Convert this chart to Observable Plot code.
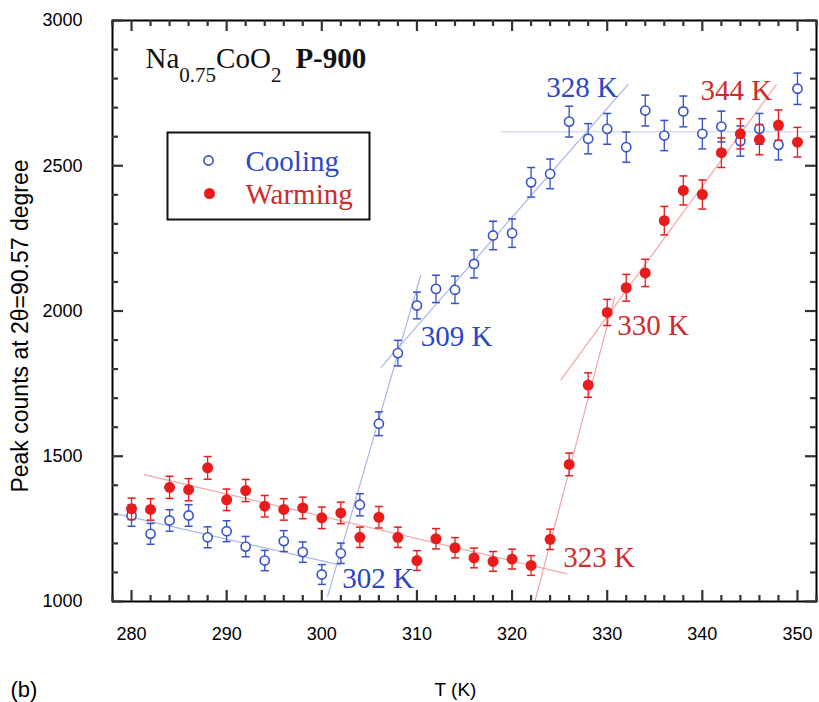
<!DOCTYPE html>
<html><head><meta charset="utf-8">
<script src="https://cdn.jsdelivr.net/npm/d3@7"></script>
<script src="https://cdn.jsdelivr.net/npm/@observablehq/plot@0.6"></script>
<style>body{margin:0;background:#fff} svg{display:block}</style>
</head><body><div id="chart"></div>
<script>
// ---- data ----
const temps = [280,282,284,286,288,290,292,294,296,298,300,302,304,306,308,310,312,314,316,318,320,322,324,326,328,330,332,334,336,338,340,342,344,346,348,350];
const coolingCounts = [1296,1233,1279,1296,1221,1242,1189,1141,1208,1170,1093,1166,1333,1612,1855,2019,2076,2073,2162,2260,2268,2443,2472,2652,2593,2627,2564,2690,2604,2687,2610,2635,2585,2627,2572,2765];
const coolingErr = [37,36,37,37,36,36,35,35,36,35,34,35,38,41,44,46,47,47,48,49,49,51,51,53,52,53,52,53,52,53,52,53,52,53,52,54];
const warmingCounts = [1319,1317,1393,1385,1460,1350,1382,1328,1317,1322,1288,1305,1221,1290,1221,1141,1216,1185,1150,1138,1146,1124,1214,1472,1745,1995,2080,2131,2311,2415,2401,2545,2610,2590,2640,2581];
const warmingErr = [37,37,38,38,39,37,38,37,37,37,37,37,35,37,35,34,35,35,34,34,34,34,35,39,42,45,46,47,49,50,50,51,52,52,52,51];
const xMajorTicks = [280,290,300,310,320,330,340,350];
const yMajorTicks = [1000,1500,2000,2500,3000];
// fitted line segments [T1, counts1, T2, counts2]
const coolingFits = [[278,1305,302,1125],[300.6,1017,310.4,2124],[306.2,1805,332.2,2780]];
const plateauFits = [[318.8,2617,352,2617]];
const warmingFits = [[281.3,1437,325.8,1095],[322.4,1000,330.8,2050],[325.1,1761,347.8,2780]];
const coolingLabels = [{T:323.6,v:2767,text:"328 K"},{T:310.4,v:1913,text:"309 K"},{T:302.14,v:1080,text:"302 K"}];
const warmingLabels = [{T:339.8,v:2757,text:"344 K"},{T:331.05,v:1948,text:"330 K"},{T:325.37,v:1152,text:"323 K"}];

// ---- build ----
const W = 819, H = 702, MT = 20, MB = 101, ML = 112, MR = 3;
const FW = W - ML - MR, FH = H - MT - MB;
const BLUE = "#3552c8", RED = "#e81c1c";
const BLUE_TXT = "#2a47c4", RED_TXT = "#d02a2a";
const BLUE_LINE = "#a9b7ea", RED_LINE = "#f3a6a6", GRAY_LINE = "#c6cbe0";
const SERIF = "'Liberation Serif', 'Times New Roman', serif";

const cooling = temps.map((T,i)=>({T, v:coolingCounts[i], e:coolingErr[i]}));
const warming = temps.map((T,i)=>({T, v:warmingCounts[i], e:warmingErr[i]}));
const seg = a => a.map(([x1,y1,x2,y2])=>({x1,y1,x2,y2}));
const xMinor = d3.range(278, 353, 2).filter(t => !xMajorTicks.includes(t));
const yMinor = d3.range(1000, 3001, 100).filter(t => !yMajorTicks.includes(t));

const cap = {draw(ctx, size){const r=Math.sqrt(size/Math.PI); ctx.moveTo(-r,0); ctx.lineTo(r,0);}};

function errMarks(data, color){
  return [
    Plot.ruleX(data, {x:"T", y1:d=>d.v-d.e, y2:d=>d.v+d.e, stroke:color, strokeWidth:1.3}),
    Plot.dot(data, {x:"T", y:d=>d.v+d.e, symbol:cap, r:4, stroke:color, strokeWidth:1.5}),
    Plot.dot(data, {x:"T", y:d=>d.v-d.e, symbol:cap, r:4, stroke:color, strokeWidth:1.5})
  ];
}
// inward tick marks on all four sides (rules inset to tick length)
const MAJ = 11, MIN = 6;
function inwardTicks(){
  const o = {stroke:"#333", strokeWidth:2.2};
  const xs = (ticks, len) => [
    Plot.ruleX(ticks, {...o, x:d=>d, insetTop:FH-len}),
    Plot.ruleX(ticks, {...o, x:d=>d, insetBottom:FH-len})
  ];
  const ys = (ticks, len) => [
    Plot.ruleY(ticks, {...o, y:d=>d, insetRight:FW-len}),
    Plot.ruleY(ticks, {...o, y:d=>d, insetLeft:FW-len})
  ];
  return [...xs(xMajorTicks, MAJ), ...xs(xMinor, MIN), ...ys(yMajorTicks, MAJ), ...ys(yMinor, MIN)];
}

const svg = Plot.plot({
  width: W, height: H,
  marginTop: MT, marginBottom: MB, marginLeft: ML, marginRight: MR,
  x: {domain:[278,352]},
  y: {domain:[1000,3000]},
  style: {fontFamily:"'Liberation Sans', Arial, sans-serif", fontSize:"18px", background:"white", color:"black"},
  marks: [
    Plot.link(seg(coolingFits), {x1:"x1",y1:"y1",x2:"x2",y2:"y2", stroke:BLUE_LINE, strokeWidth:1.2}),
    Plot.link(seg(plateauFits), {x1:"x1",y1:"y1",x2:"x2",y2:"y2", stroke:GRAY_LINE, strokeWidth:1.2}),
    Plot.link(seg(warmingFits), {x1:"x1",y1:"y1",x2:"x2",y2:"y2", stroke:RED_LINE, strokeWidth:1.2}),
    ...errMarks(cooling, BLUE),
    Plot.dot(cooling, {x:"T", y:"v", r:4.6, stroke:BLUE, fill:"white", strokeWidth:1.6}),
    ...errMarks(warming, RED),
    Plot.dot(warming, {x:"T", y:"v", r:5.5, fill:RED}),
    Plot.text(coolingLabels, {x:"T", y:"v", text:"text", textAnchor:"start", fill:BLUE_TXT, fontFamily:SERIF, fontSize:29}),
    Plot.text(warmingLabels, {x:"T", y:"v", text:"text", textAnchor:"start", fill:RED_TXT, fontFamily:SERIF, fontSize:29}),
    // formula title
    Plot.text(["Na0.75CoO2 P-900"], {frameAnchor:"top-left", dx:33, dy:38, textAnchor:"start", lineAnchor:"middle", fontFamily:SERIF, fontSize:29, fill:"#111", className:"formula"}),
    // legend
    Plot.frame({insetLeft:55, insetRight:447, insetTop:112, insetBottom:382, stroke:"#111", strokeWidth:2}),
    Plot.dot([0], {frameAnchor:"top-left", dx:96, dy:140, r:4.6, stroke:BLUE, fill:"white", strokeWidth:1.6}),
    Plot.dot([0], {frameAnchor:"top-left", dx:97, dy:173, r:5.5, fill:RED}),
    Plot.text(["Cooling"], {frameAnchor:"top-left", dx:133, dy:141, textAnchor:"start", lineAnchor:"middle", fontFamily:SERIF, fontSize:29, fill:BLUE_TXT}),
    Plot.text(["Warming"], {frameAnchor:"top-left", dx:133, dy:174, textAnchor:"start", lineAnchor:"middle", fontFamily:SERIF, fontSize:29, fill:RED_TXT}),
    // axes
    Plot.axisX({anchor:"bottom", ticks:xMajorTicks, tickSize:0, tickPadding:26, label:null, fontSize:18}),
    Plot.axisY({anchor:"left", ticks:yMajorTicks, tickSize:0, tickPadding:30, tickFormat:d=>String(d), label:null, fontSize:18}),
    Plot.frame({stroke:"black", strokeWidth:2}),
    ...inwardTicks(),
    // axis titles
    Plot.text(["T (K)"], {frameAnchor:"bottom", dx:-9, dy:88, lineAnchor:"middle", fontSize:19}),
    Plot.text(["(b)"], {frameAnchor:"bottom-left", dx:-102, dy:88, textAnchor:"start", lineAnchor:"middle", fontSize:22}),
    Plot.text(["Peak counts at 2θ=90.57 degree"], {frameAnchor:"left", dx:-92, dy:15, rotate:-90, textAnchor:"middle", lineAnchor:"middle", fontSize:23})
  ]
});

// subscripts and bold for the formula
const t = d3.select(svg).select('g.formula text');
t.text(null);
t.append("tspan").text("Na");
t.append("tspan").attr("font-size", 21).attr("dy", 14).text("0.75");
t.append("tspan").attr("dy", -14).text("CoO");
t.append("tspan").attr("font-size", 21).attr("dy", 14).text("2");
t.append("tspan").attr("dy", -14).attr("dx", 14).attr("font-weight", "bold").text("P-900");

document.getElementById("chart").appendChild(svg);
</script>
</body></html>
